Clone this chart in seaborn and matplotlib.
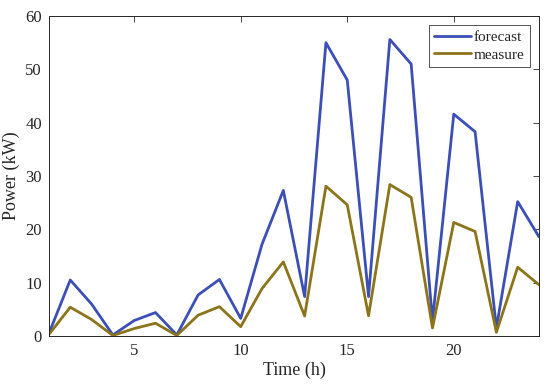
import pandas as pd
import numpy as np
import matplotlib
matplotlib.use('Agg')
import matplotlib.pyplot as plt
import seaborn as sns

hours = list(range(1, 25))
forecast = [0.5, 10.5, 6.0, 0.2, 2.9, 4.4, 0.2, 7.7, 10.6, 3.3, 17.2, 27.3,
            7.4, 55.0, 48.0, 7.4, 55.6, 51.0, 2.8, 41.6, 38.3, 1.5, 25.2, 18.6]
measure = [0.3, 5.4, 3.1, 0.1, 1.4, 2.4, 0.1, 3.9, 5.5, 1.75, 8.9, 13.9,
           3.75, 28.1, 24.6, 3.8, 28.4, 26.0, 1.5, 21.3, 19.6, 0.7, 12.9, 9.6]

df = pd.DataFrame({'Time': hours, 'forecast': forecast, 'measure': measure})
df = df.melt(id_vars='Time', var_name='series', value_name='Power')

sns.set_style("white")
plt.rcParams['font.family'] = ['Liberation Serif', 'DejaVu Serif']
plt.rcParams['xtick.direction'] = 'in'
plt.rcParams['ytick.direction'] = 'in'

fig = plt.figure(figsize=(5.5, 3.86), dpi=100)
ax = fig.add_axes([0.089, 0.1295, 0.891, 0.829])
sns.lineplot(data=df, x='Time', y='Power', hue='series',
             palette={'forecast': '#3c4fb4', 'measure': '#8c741c'},
             linewidth=2, ax=ax)

ax.set_xlim(1, 24)
ax.set_ylim(0, 60)
ax.set_xticks([5, 10, 15, 20])
ax.set_yticks(range(0, 61, 10))
ax.tick_params(which='both', top=True, right=True, length=4, width=0.6,
               labelsize=12, color='#262626', labelcolor='#262626', pad=5)
for s in ax.spines.values():
    s.set_color('#262626')
    s.set_linewidth(0.7)
ax.set_xlabel('Time (h)', fontsize=13, color='#262626', labelpad=2)
ax.set_ylabel('Power (kW)', fontsize=13, color='#262626', labelpad=4)
leg = ax.legend(loc='upper right', fontsize=11, frameon=True, fancybox=False,
                edgecolor='#262626', handlelength=2.4, handletextpad=0.2,
                borderpad=0.35, labelspacing=0.25, borderaxespad=0.6)
leg.get_frame().set_linewidth(0.7)

fig.savefig('out.png', dpi=100)
